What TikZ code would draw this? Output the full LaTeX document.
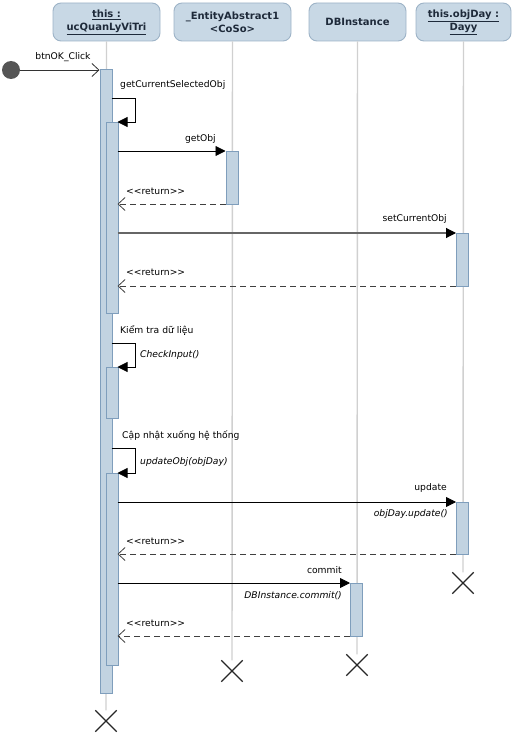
\documentclass[tikz,border=0pt]{standalone}
\usepackage{fontspec}
\setmainfont{DejaVu Sans}
\usetikzlibrary{arrows.meta,shapes.misc}
\definecolor{headfill}{HTML}{C8D8E5}
\definecolor{headdraw}{HTML}{9DB3C7}
\definecolor{actfill}{HTML}{C2D3E1}
\definecolor{actdraw}{HTML}{7F9EBC}
\definecolor{lifegray}{HTML}{D0D0D0}
\definecolor{headtext}{HTML}{1E2A3A}
\definecolor{dotgray}{HTML}{555555}
\newcommand{\retlabel}{<{}<return>{}>}
\begin{document}
\begin{tikzpicture}[x=1pt,y=-1pt,
  font=\fontsize{9.2}{11}\selectfont,
  head/.style={draw=headdraw, fill=headfill, rounded corners=8pt, line width=0.9pt,
    minimum height=38pt, align=center, inner sep=0pt, text=headtext,
    font=\fontsize{10}{13}\selectfont\bfseries},
  lifeline/.style={draw=lifegray, line width=1.4pt},
  act/.style={draw=actdraw, fill=actfill, line width=0.9pt, minimum width=12pt,
    inner sep=0pt, anchor=north west},
  call/.style={draw=black, line width=0.8pt, -{Triangle[length=10pt,width=10pt,color=black]}},
  ret/.style={draw=black!75, line width=0.8pt, dash pattern=on 6pt off 4pt,
    -{Straight Barb[length=7pt,width=13pt,line width=0.8pt]}},
  entry/.style={draw=black!80, line width=0.8pt,
    -{Straight Barb[length=7pt,width=13pt,line width=0.8pt]}},
  lbl/.style={inner sep=0pt, text=black},
  op/.style={lbl, font=\fontsize{9.2}{11}\selectfont\itshape},
  endmark/.style={cross out, draw=black!85, line width=1.3pt, minimum size=20pt, inner sep=0pt}
]
\useasboundingbox (0,0) rectangle (514,733);

% object headers
\node[head, minimum width=107pt] (h1) at (106.5,22) {\underline{this :}\\\underline{ucQuanLyViTri}};
\node[head, minimum width=117pt] (h2) at (232.5,22) {\_EntityAbstract1\\<CoSo>};
\node[head, minimum width=97pt]  (h3) at (357.5,22) {DBInstance};
\node[head, minimum width=95pt]  (h4) at (463.5,22) {\underline{this.objDay :}\\\underline{Dayy}};

% destruction marks
\node[endmark] (x1) at (106,721) {};
\node[endmark] (x2) at (232,671) {};
\node[endmark] (x3) at (357,665) {};
\node[endmark] (x4) at (463,583) {};

% lifelines
\draw[lifeline] (h1) -- (x1);
\draw[lifeline] (h2) -- (x2);
\draw[lifeline] (h3) -- (x3);
\draw[lifeline] (h4) -- (x4);

% activation bars
\node[act, minimum height=624pt] (a0) at (99.5,69) {};
\node[act, minimum height=191pt] (a1) at (105.5,122) {};
\node[act, minimum height=51pt]  (a2) at (105.5,367) {};
\node[act, minimum height=192pt] (a3) at (105.5,473) {};
\node[act, minimum height=53pt]  (b1) at (225.5,151) {};
\node[act, minimum height=53pt]  (d1) at (456,233) {};
\node[act, minimum height=52pt]  (d2) at (456,502) {};
\node[act, minimum height=53pt]  (c1) at (350,583) {};

% message end points
\coordinate (e0) at (99.5,70);
\coordinate (s1a) at (111.5,98);  \coordinate (s1b) at (135,98);
\coordinate (s1c) at (135,122);   \coordinate (s1d) at (117.5,122);
\coordinate (m1a) at (117.5,151); \coordinate (m1b) at (225.5,151);
\coordinate (r1a) at (225.5,204); \coordinate (r1b) at (117.5,204);
\coordinate (m2a) at (117.5,233); \coordinate (m2b) at (456,233);
\coordinate (r2a) at (456,286);   \coordinate (r2b) at (117.5,286);
\coordinate (s2a) at (111.5,343); \coordinate (s2b) at (135,343);
\coordinate (s2c) at (135,367);   \coordinate (s2d) at (117.5,367);
\coordinate (s3a) at (111.5,448); \coordinate (s3b) at (135,448);
\coordinate (s3c) at (135,473);   \coordinate (s3d) at (117.5,473);
\coordinate (m3a) at (117.5,502); \coordinate (m3b) at (456,502);
\coordinate (r3a) at (456,554);   \coordinate (r3b) at (117.5,554);
\coordinate (m4a) at (117.5,583); \coordinate (m4b) at (350,583);
\coordinate (r4a) at (350,636);   \coordinate (r4b) at (117.5,636);

% entry point
\node[circle, fill=dotgray, minimum size=18pt, inner sep=0pt] (start) at (11,70) {};
\draw[entry] (start) -- (e0);
\node[lbl] (t0) at (63,57) {btnOK\_Click};

% getCurrentSelectedObj
\draw[call] (s1a) -- (s1b) -- (s1c) -- (s1d);
\node[lbl, anchor=west] (t1) at (120,85) {getCurrentSelectedObj};

% getObj and its return
\draw[call] (m1a) -- (m1b);
\node[lbl, anchor=east] (t2) at (216,139) {getObj};
\draw[ret] (r1a) -- (r1b);
\node[lbl, anchor=west] (t3) at (126,191) {\retlabel};

% setCurrentObj and its return
\draw[call, draw=black!60, line width=1.1pt] (m2a) -- (m2b);
\node[lbl, anchor=east] (t4) at (447,219) {setCurrentObj};
\draw[ret] (r2a) -- (r2b);
\node[lbl, anchor=west] (t5) at (126,272) {\retlabel};

% input check
\node[lbl, anchor=west] (t6) at (120,330) {Kiểm tra dữ liệu};
\draw[call] (s2a) -- (s2b) -- (s2c) -- (s2d);
\node[op, anchor=west] (t7) at (140,355) {CheckInput()};

% system update
\node[lbl, anchor=west] (t8) at (122,436) {Cập nhật xuống hệ thống};
\draw[call] (s3a) -- (s3b) -- (s3c) -- (s3d);
\node[op, anchor=west] (t9) at (140,462) {updateObj(objDay)};

% update and its return
\draw[call] (m3a) -- (m3b);
\node[lbl, anchor=east] (t10) at (447,488) {update};
\node[op, anchor=east] (t11) at (448,514) {objDay.update()};
\draw[ret] (r3a) -- (r3b);
\node[lbl, anchor=west] (t12) at (126,541) {\retlabel};

% commit and its return
\draw[call] (m4a) -- (m4b);
\node[lbl, anchor=east] (t13) at (342,570) {commit};
\node[op, anchor=east] (t14) at (342,596) {DBInstance.commit()};
\draw[ret] (r4a) -- (r4b);
\node[lbl, anchor=west] (t15) at (126,623) {\retlabel};
\end{tikzpicture}
\end{document}
